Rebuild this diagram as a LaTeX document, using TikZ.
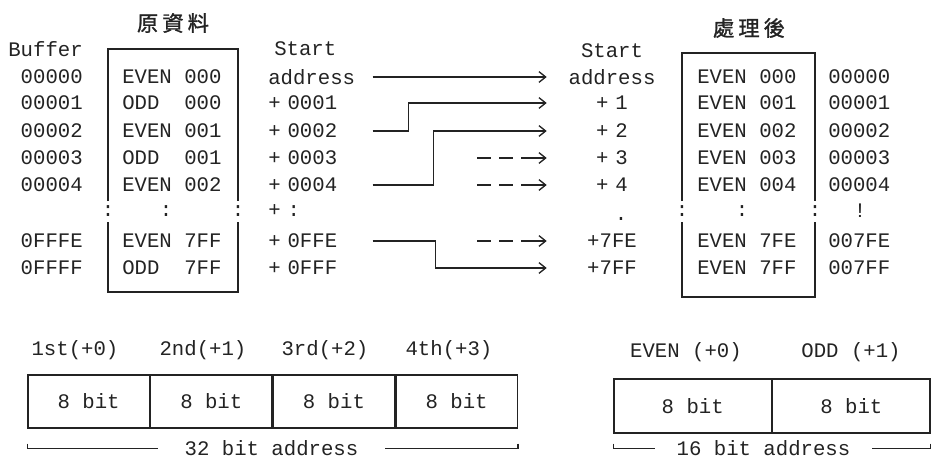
\documentclass[tikz,border=0pt]{standalone}
\usepackage{fontspec}
\setmainfont{Liberation Mono}
\newfontfamily\cjk[FakeBold=1.2]{Noto Sans CJK TC}
\usepackage{xcolor}
\usepackage{tikz}
\usetikzlibrary{arrows.meta,positioning}
\definecolor{ink}{RGB}{35,35,35}

\begin{document}
\begin{tikzpicture}[x=0.75pt,y=-0.75pt,>={Straight Barb[length=5pt,width=8pt]},
      every node/.style={font=\fontsize{15.5}{18}\selectfont,text=ink,inner sep=0pt},
      ttl/.style={font=\cjk\fontsize{16}{20}\selectfont},
      addrL/.style={anchor=west,text width=78pt,align=left},
      addrR/.style={text width=97.5pt,align=center},
      conn/.style={draw=ink,line width=1pt,->},
      dconn/.style={conn,dash pattern=on 10.5pt off 6pt on 10.5pt off 6pt on 20pt off 0pt},
      frame/.style={draw=ink,line width=1pt},
      cell/.style={draw=ink,line width=1pt,minimum height=39.75pt}]
    \useasboundingbox[fill=white] (0,0) rectangle (931,460);
    % LEFT: original data
    \node[ttl] (T1) at (173,23) {原\hspace{3pt}資\hspace{3pt}料};
    \node[anchor=east] (buf) at (83,49) {Buffer};
    \foreach \i/\y/\t in {0/77/00000,1/103/00001,2/131/00002,3/158/00003,4/185/00004,5/241/0FFFE,6/268/0FFFF}
      \node[anchor=east] (B\i) at (83,\y) {\t};
    \foreach \i/\y/\t in {0/77/EVEN 000,1/103/ODD\ \ 000,2/131/EVEN 001,3/158/ODD\ \ 001,4/185/EVEN 002,5/241/EVEN 7FF,6/268/ODD\ \ 7FF}
      \node[anchor=west] (O\i) at (122,\y) {\t};
    \foreach \i/\x in {1/108,2/166,3/238} \node (Oc\i) at (\x,211) {:};
    \draw[frame] (108,201) -- (108,49) -- (238,49) -- (238,201)
                 (108,222) -- (108,292) -- (238,292) -- (238,222);
    \node[anchor=west] (LS) at (274,49) {Start};
    \node[addrL] (L0) at (268,77) {address};
    \foreach \i/\y/\t in {1/103/+ 0001,2/131/+ 0002,3/158/+ 0003,4/185/+ 0004,5/241/+ 0FFE,6/268/+ 0FFF}
      \node[addrL] (L\i) at (268,\y) {\t};
    \node[addrL] (Lc) at (268,211) {+\ :};
    % RIGHT: after processing
    \node[ttl] (T2) at (749,28) {處\hspace{3pt}理\hspace{3pt}後};
    \node[addrR] (RS) at (612,51) {Start};
    \node[addrR] (R0) at (612,77) {address};
    \foreach \i/\y/\t in {1/103/+ 1,2/131/+ 2,3/158/+ 3,4/185/+ 4,5/241/+7FE,6/268/+7FF}
      \node[addrR] (R\i) at (612,\y) {\t};
    \node (Rc) at (621,219) {.};
    \foreach \i/\y/\t in {0/77/000,1/103/001,2/131/002,3/158/003,4/185/004,5/241/7FE,6/268/7FF}
      \node[anchor=west] (E\i) at (697,\y) {EVEN \t};
    \foreach \i/\x in {1/682,2/742,3/815} \node (Ec\i) at (\x,211) {:};
    \draw[frame] (682,201) -- (682,53) -- (815,53) -- (815,201)
                 (682,222) -- (682,297) -- (815,297) -- (815,222);
    \foreach \i/\y/\t in {0/77/00000,1/103/00001,2/131/00002,3/158/00003,4/185/00004,5/241/007FE,6/268/007FF}
      \node[anchor=west] (N\i) at (828,\y) {\t};
    \node (Nc) at (860,211) {!};
    % connectors
    \draw[conn] (L0.east) -- (R0.west);
    \draw[conn] (L2.east) -- ++(36,0) |- (R1.west);
    \draw[conn] (L4.east) -- ++(61,0) |- (R2.west);
    \draw[conn] (L5.east) -- ++(63,0) |- (R6.west);
    \foreach \i in {3,4,5} {
      \coordinate (dsh\i) at ([xshift=-52pt]R\i.west);
      \draw[dconn] (dsh\i) -- (R\i.west);
    }
    % BOTTOM: 32 bit word
    \foreach \i/\x/\t in {1/75/1st(+0),2/203/2nd(+1),3/325/3rd(+2),4/449/4th(+3)}
      \node (H\i) at (\x,350) {\t};
    \node[cell,minimum width=91pt] (C1) at (88.6,401.5) {8 bit};
    \foreach \i/\j in {2/1,3/2,4/3} \node[cell,minimum width=91pt,right=0pt of C\j] (C\i) {8 bit};
    \node[inner xsep=20pt] (S32) at (271.5,448) {32 bit address};
    \coordinate (b1) at ([yshift=-11.25pt]C1.south west);
    \coordinate (b2) at ([yshift=-11.25pt]C4.south east);
    \draw[frame] (b1) -- ++(0,5) coordinate (b1l) -- (b1l -| S32.west);
    \draw[frame] (b2) -- ++(0,5) coordinate (b2l) -- (b2l -| S32.east);
    % BOTTOM: 16 bit word
    \node (H5) at (686,352) {EVEN (+0)};
    \node (H6) at (851,352) {ODD (+1)};
    \node[cell,minimum width=118pt,minimum height=40.5pt] (W1) at (692.7,406) {8 bit};
    \node[cell,minimum width=118pt,minimum height=40.5pt,right=0pt of W1] (W2) {8 bit};
    \node[inner xsep=16pt] (S16) at (763.5,448) {16 bit address};
    \coordinate (b3) at ([yshift=-7.5pt]W1.south west);
    \coordinate (b4) at ([yshift=-7.5pt]W2.south east);
    \draw[frame] (b3) -- ++(0,5) coordinate (b3l) -- (b3l -| S16.west);
    \draw[frame] (b4) -- ++(0,5) coordinate (b4l) -- (b4l -| S16.east);
  \end{tikzpicture}
\end{document}
